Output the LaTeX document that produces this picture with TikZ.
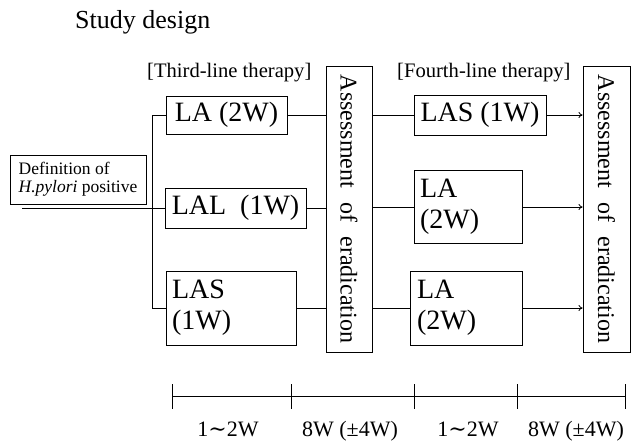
\documentclass[tikz,border=0pt]{standalone}
\usepackage{fontspec}
\usepackage{graphicx}
\setmainfont{Liberation Serif}
\newfontfamily\dvs{DejaVu Serif}
\usetikzlibrary{arrows.meta}
\begin{document}
\begin{tikzpicture}[x=1pt,y=-1pt,
  box/.style={draw, line width=0.9pt, inner sep=0pt, font=\fontsize{28}{31}\selectfont},
  ln/.style={line width=0.8pt},
  arr/.style={line width=0.8pt, -{To[length=4pt,width=6pt]}},
  lbl/.style={anchor=base, inner sep=0pt, font=\fontsize{22}{24}\selectfont},
  hdr/.style={anchor=base west, inner sep=0pt, font=\fontsize{20.6}{22}\selectfont}]
\useasboundingbox (0,0) rectangle (635,441);

\node[anchor=base west, inner sep=0pt, font=\fontsize{26}{28}\selectfont] (title) at (75,29) {Study design};
\node[hdr] (h3) at (147,78) {[Third-line therapy]};
\node[hdr] (h4) at (397,78) {[Fourth-line therapy]};

\node[box, minimum width=136pt, minimum height=49pt, align=left,
      font=\fontsize{17.5}{18}\selectfont] (def) at (78,179.5) {Definition of\\\textit{H.pylori} positive};
\coordinate (start) at (22,208);
\coordinate (bx) at (152,208);

% third-line
\node[box, minimum width=121pt, minimum height=38pt] (la3) at (226.5,115) {LA (2W)};
\node[box, minimum width=141pt, minimum height=40pt] (lal3) at (235.5,208) {LAL~~(1W)};
\node[box, minimum width=130pt, minimum height=74pt, text width=118pt, align=left] (las3) at (231,308) {LAS\\(1W)};

% assessments
\node[box, minimum width=46pt, minimum height=286pt] (a1) at (349,209)
  {\rotatebox{-90}{\fontsize{24}{24}\selectfont\makebox[268pt][s]{Assessment of eradication}}};
\node[box, minimum width=47pt, minimum height=286pt] (a2) at (606.5,209)
  {\rotatebox{-90}{\fontsize{24}{24}\selectfont\makebox[268pt][s]{Assessment of eradication}}};

% fourth-line
\node[box, minimum width=132pt, minimum height=40pt] (las4) at (480,115) {LAS (1W)};
\node[box, minimum width=108pt, minimum height=73pt, text width=96pt, align=left] (la4a) at (468,207) {LA\\(2W)};
\node[box, minimum width=112pt, minimum height=74pt, text width=98pt, align=left] (la4b) at (466,308) {LA\\(2W)};

% connectors
\draw[ln] (start) -- (lal3.west);
\draw[ln] (la3.west) -- (la3.west -| bx) -- (las3.west -| bx) -- (las3.west);
\draw[ln] (la3.east) -- (la3.east -| a1.west);
\draw[ln] (lal3.east) -- (lal3.east -| a1.west);
\draw[ln] (las3.east) -- (las3.east -| a1.west);
\draw[ln] (las4.west -| a1.east) -- (las4.west);
\draw[ln] (la4a.west -| a1.east) -- (la4a.west);
\draw[ln] (la4b.west -| a1.east) -- (la4b.west);
\draw[arr] (las4.east) -- (las4.east -| a2.west);
\draw[arr] (la4a.east) -- (la4a.east -| a2.west);
\draw[arr] (la4b.east) -- (la4b.east -| a2.west);

% timeline
\coordinate (t1) at (172,396);
\coordinate (t2) at (291,396);
\coordinate (t3) at (414,396);
\coordinate (t4) at (517,396);
\coordinate (t5) at (625,396);
\draw[ln] (t1) -- (t5);
\foreach \t in {t1,t2,t3,t4,t5}
  \draw[line width=1pt] ([yshift=-12.5pt]\t) -- ([yshift=12.5pt]\t);

\node[lbl] (l1) at (228,436) {1{\dvs ∼}2W};
\node[lbl] (l2) at (350,436) {8W (±4W)};
\node[lbl] (l3) at (468,436) {1{\dvs ∼}2W};
\node[lbl] (l4) at (576,436) {8W (±4W)};
\end{tikzpicture}
\end{document}
